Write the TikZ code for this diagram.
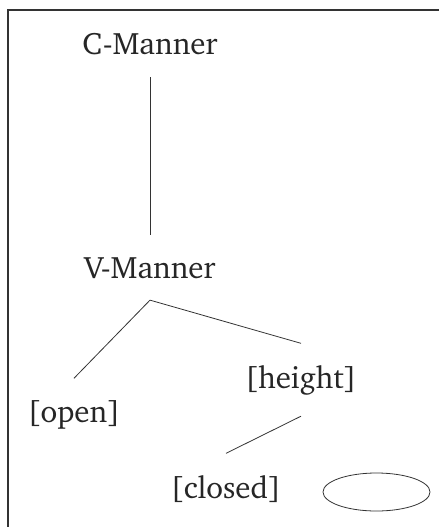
\documentclass[tikz,border=0pt]{standalone}
\usepackage[T1]{fontenc}
\usepackage{charter}
\usetikzlibrary{shapes.geometric}
\tikzset{
  lbl/.style={inner xsep=0pt, inner ysep=21.5pt, font=\fontsize{31}{37}\selectfont, text=black!85},
  conn/.style={draw=black!80, line width=0.8pt},
  frame/.style={draw=black!80, line width=1.3pt},
}
\begin{document}
\begin{tikzpicture}[x=1pt,y=-1pt]
\useasboundingbox (0,0) rectangle (439,527);
\coordinate (fr-tr) at (439,10);
\coordinate (fr-tl) at (8,10);
\coordinate (fr-bl) at (8,527);
\draw[frame] (fr-tr) -- (fr-tl) -- (fr-bl);
\node[lbl, anchor=base] (cm) at (150,55) {C-Manner};
\node[lbl, anchor=base] (vm) at (150,278) {V-Manner};
\node[lbl, anchor=base] (height) at (301,388) {[height]};
\node[lbl, anchor=base] (open) at (74,422) {[open]};
\node[lbl, anchor=base] (closed) at (226,498) {[closed]};
\node[ellipse, draw=black!80, line width=0.8pt, minimum width=107pt, minimum height=38pt, inner sep=0pt] (ell) at (376.5,492) {};
\draw[conn] (cm.south) -- (vm.north);
\draw[conn] (vm.south) -- (open.north);
\draw[conn] (vm.south) -- (height.north);
\draw[conn] (height.south) -- (closed.north);
\end{tikzpicture}
\end{document}
